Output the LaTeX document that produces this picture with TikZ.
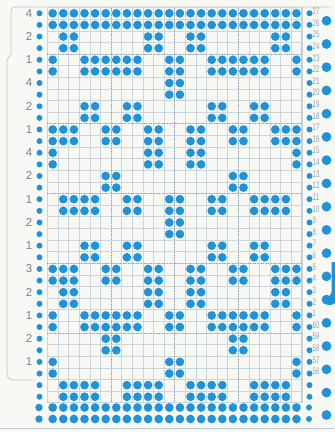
\documentclass[tikz,border=0pt]{standalone}
\usepackage{fontspec}
\setmainfont{Liberation Sans}
\definecolor{holeblue}{HTML}{1F93DA}
\definecolor{gridc}{HTML}{CCD6DD}
\definecolor{dotc}{HTML}{8C9DAB}
\definecolor{labc}{HTML}{6E8597}
\definecolor{rlabc}{HTML}{8FA2B2}
\definecolor{paper}{HTML}{F8F8F5}
\definecolor{edgec}{HTML}{BFC8CF}
\begin{document}
\begin{tikzpicture}[x=1pt,y=-1pt,
  hole/.style={fill=holeblue},
  gridline/.style={draw=gridc,line width=0.45pt},
  divline/.style={draw=dotc,line width=0.6pt,dotted},
  leftlab/.style={text=labc,font=\fontsize{11.5}{11.5}\selectfont,inner sep=0pt},
  rightlab/.style={text=rlabc,font=\fontsize{9.5}{9.5}\selectfont,inner sep=0pt,anchor=west,xscale=0.65}]
\fill[paper] (0,0) rectangle (335,432);
\useasboundingbox (0,0) rectangle (335,432);
% card edge
\draw[edgec,line width=0.7pt] (331,7) -- (16,7) .. controls (12,7) and (11,9) .. (11,13) -- (11,54) -- (7,60) -- (7,372) .. controls (7,378) and (9,380) .. (14,380) -- (34,380);
\draw[edgec,line width=0.8pt] (0,428) -- (334,428);
% grid
\foreach \k in {0,...,24}{\pgfmathsetmacro\gx{47.4+\k*10.6}\draw[gridline] (\gx,7.5) -- (\gx,402.6);}
\foreach \k in {0,...,34}{\pgfmathsetmacro\gy{7.5+\k*11.62}\draw[gridline] (47.4,\gy) -- (301.8,\gy);}
\draw[draw=edgec,line width=0.7pt] (301.8,7.5) -- (301.8,402.6);
\foreach \k in {4,10,16,22,28}{\pgfmathsetmacro\gy{7.5+\k*11.62}\draw[divline] (47.4,\gy) -- (301.8,\gy);}
\foreach \k in {6,12,18}{\pgfmathsetmacro\gx{47.4+\k*10.6}\draw[divline] (\gx,7.5) -- (\gx,402.6);}
% pattern holes (pairs of rows)
\foreach \r/\cols in {
  1/{1,...,24},
  3/{2,3,10,11,14,15,22,23},
  5/{1,4,5,6,7,8,9,12,13,16,17,18,19,20,21,24},
  7/{12,13},
  9/{4,5,8,9,16,17,20,21},
  11/{1,2,3,6,7,10,11,14,15,18,19,22,23,24},
  13/{1,10,11,14,15,24},
  15/{6,7,18,19},
  17/{2,3,4,5,8,9,12,13,16,17,20,21,22,23},
  19/{12,13},
  21/{4,5,8,9,16,17,20,21},
  23/{1,2,3,6,7,10,11,14,15,18,19,22,23,24},
  25/{2,3,10,11,14,15,22,23},
  27/{1,4,5,6,7,8,9,12,13,16,17,18,19,20,21,24},
  29/{6,7,18,19},
  31/{1,12,13,24},
  33/{2,3,4,5,8,9,10,11,14,15,16,17,20,21,22,23}}{
  \pgfmathsetmacro\ya{13.3+(\r-1)*11.62}
  \pgfmathsetmacro\yb{13.3+\r*11.62}
  \foreach \c in \cols {
    \pgfmathsetmacro\px{52.7+(\c-1)*10.6}
    \fill[hole] (\px,\ya) circle (4.35);
    \fill[hole] (\px,\yb) circle (4.35);
  }
}
% bottom full rows
\foreach \yy in {407.5,419}{
  \foreach \c in {1,...,24}{\pgfmathsetmacro\px{52.7+(\c-1)*10.6}\fill[hole] (\px,\yy) circle (4.35);}
  \fill[hole] (39,\yy) circle (3.7);
  \fill[hole] (309,\yy) circle (3.0);
}
% side columns
\foreach \r in {1,...,34}{
  \pgfmathsetmacro\py{13.3+(\r-1)*11.62}
  \fill[hole] (39.5,\py) circle (3.0);
  \fill[hole] (309.5,\py) circle (3.0);
}
% sprocket holes
\foreach \k in {1,...,17}{
  \pgfmathsetmacro\py{13.3+(2*\k-1)*11.62-4.2}
  \fill[hole] (326.5,\py) circle (4.9);
}
\fill[hole] (326.5,415) circle (4.9);
% blue tab
\fill[hole] (331.5,262) -- (335,262) -- (335,303) .. controls (333,305.5) and (330,305) .. (326.5,304.5) -- (326.5,297) .. controls (329,297) and (331.5,295) .. (331.5,292) -- cycle;
% left labels
\foreach \r/\t [count=\i] in {1/4,3/2,5/1,7/4,9/2,11/1,13/4,15/2,17/1,19/2,21/1,23/3,25/2,27/1,29/2,31/1}{
  \pgfmathsetmacro\py{13.3+(\r-1)*11.62}
  \node[leftlab] (L\i) at (29,\py) {\t};
}
% right labels
\foreach \r/\t in {1/27,2/26,3/25,4/24,5/23,6/22,7/21,8/20,9/19,10/18,11/17,12/16,13/15,14/14,15/13,16/12,17/11,18/10,19/9,20/8,21/7,22/6,23/5,24/4,25/3,26/2,27/1,28/60,29/59,30/58,31/57,32/56}{
  \pgfmathsetmacro\py{13.3+(\r-1)*11.62-2}
  \node[rightlab] (R\t) at (312.6,\py) {\t};
}
\end{tikzpicture}
\end{document}
